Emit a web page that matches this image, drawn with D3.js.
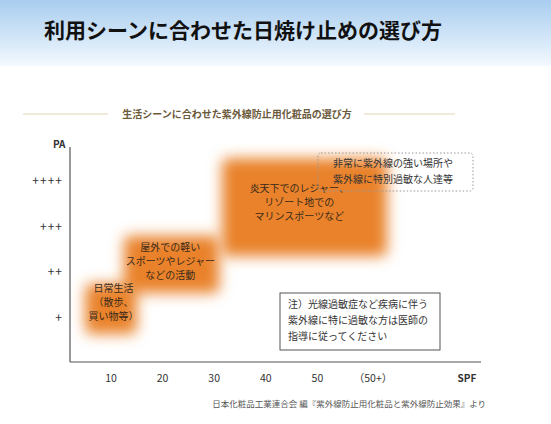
<!DOCTYPE html>
<html><head><meta charset="utf-8">
<script src="https://cdn.jsdelivr.net/npm/d3@7"></script>
<style>body{margin:0;background:#fff;font-family:"Noto Sans CJK JP",sans-serif;}</style>
</head><body><svg id="chart"></svg>
<script>
const spfTicks = [10, 20, 30, 40, 50];
const spfLabels = ['10', '20', '30', '40', '50'];
const paTicks = [1, 2, 3, 4];
const paLabels = ['+', '++', '+++', '++++'];
// usage zones: SPF range and PA range
const zones = [
  {spf: [5, 15], pa: [0.65, 1.75], lines: ['日常生活', '（散歩、', '買い物等）'], at: [10.5, 1.35]},
  {spf: [12.5, 31], pa: [1.55, 2.8], lines: ['屋外での軽い', 'スポーツやレジャー', 'などの活動'], at: [21.5, 2.25]},
  {spf: [31.5, 63.5], pa: [2.35, 4.5], lines: ['炎天下でのレジャー、', 'リゾート地での', 'マリンスポーツなど'], at: [46.5, 3.55]}
];

const width = 551, height = 424;
const svg = d3.select('#chart').attr('width', width).attr('height', height);

// header band
const defs = svg.append('defs');
const sky = defs.append('linearGradient').attr('id', 'sky').attr('x1', 0).attr('y1', 0).attr('x2', 0).attr('y2', 1);
sky.append('stop').attr('offset', 0).attr('stop-color', '#a9cdef');
sky.append('stop').attr('offset', 0.6).attr('stop-color', '#d4e7f8');
sky.append('stop').attr('offset', 1).attr('stop-color', '#f4f9fe');
svg.append('rect').attr('width', width).attr('height', 66).attr('fill', 'url(#sky)');
svg.append('text').attr('x', 44).attr('y', 38)
  .style('font-size', '21px').style('font-weight', 'bold').attr('fill', '#111')
  .text('利用シーンに合わせた日焼け止めの選び方');

// subtitle
svg.append('line').attr('x1', 23).attr('x2', 108).attr('y1', 114).attr('y2', 114).attr('stroke', '#e3d6b4');
svg.append('line').attr('x1', 364).attr('x2', 455).attr('y1', 114).attr('y2', 114).attr('stroke', '#e3d6b4');
svg.append('text').attr('x', 237).attr('y', 118).attr('text-anchor', 'middle')
  .style('font-size', '10px').style('font-weight', 'bold').attr('fill', '#6b5a3c')
  .text('生活シーンに合わせた紫外線防止用化粧品の選び方');

const x = d3.scaleLinear().domain([10, 60]).range([111, 369]);
const y = d3.scaleLinear().domain([1, 4]).range([318, 181]);
const x0 = 70, y0 = 362;

// zones
defs.append('filter').attr('id', 'blur').attr('x', '-40%').attr('y', '-40%').attr('width', '180%').attr('height', '180%')
  .append('feGaussianBlur').attr('stdDeviation', 7);
const g = svg.append('g');
g.selectAll('rect').data(zones).join('rect')
  .attr('x', d => x(d.spf[0])).attr('width', d => x(d.spf[1]) - x(d.spf[0]))
  .attr('y', d => y(d.pa[1])).attr('height', d => y(d.pa[0]) - y(d.pa[1]))
  .attr('rx', 6)
  .attr('fill', '#e9822a').attr('filter', 'url(#blur)');
zones.forEach(z => {
  const t = svg.append('text').attr('text-anchor', 'middle').style('font-size', '10px').attr('fill', '#3a2a1a');
  z.lines.forEach((l, i) => {
    t.append('tspan').attr('x', x(z.at[0])).attr('y', y(z.at[1]) + (i - 1) * 14 + 4).text(l);
  });
});

// axes
svg.append('line').attr('x1', x0).attr('x2', x0).attr('y1', 147).attr('y2', y0).attr('stroke', '#555').attr('stroke-width', 1.2);
svg.append('line').attr('x1', x0).attr('x2', 481).attr('y1', y0).attr('y2', y0).attr('stroke', '#555').attr('stroke-width', 1.2);
svg.append('text').attr('x', 53).attr('y', 148).style('font-size', '10px').style('font-weight', 'bold').attr('fill', '#333').text('PA');
svg.append('text').attr('x', 467).attr('y', 382).attr('text-anchor', 'middle').style('font-size', '10px').style('font-weight', 'bold').attr('fill', '#333').text('SPF');
svg.selectAll('.xt').data(spfTicks).join('text').attr('class', 'xt')
  .attr('x', d => x(d)).attr('y', 382).attr('text-anchor', 'middle')
  .style('font-size', '10.5px').attr('fill', '#333').text((d, i) => spfLabels[i]);
svg.append('text').attr('x', 373).attr('y', 382).attr('text-anchor', 'middle')
  .style('font-size', '10.5px').attr('fill', '#333').text('（50+）');
svg.selectAll('.yt').data(paTicks).join('text').attr('class', 'yt')
  .attr('x', 63).attr('y', d => y(d) + 4).attr('text-anchor', 'end')
  .style('font-size', '12px').style('letter-spacing', '1px').attr('fill', '#333').text((d, i) => paLabels[i]);

// notes
svg.append('rect').attr('x', 318).attr('y', 153).attr('width', 155).attr('height', 38).attr('rx', 3)
  .attr('fill', 'none').attr('stroke', '#999').attr('stroke-dasharray', '1.5,2');
const n1 = svg.append('text').style('font-size', '10px').attr('fill', '#333');
['非常に紫外線の強い場所や', '紫外線に特別過敏な人達等'].forEach((l, i) =>
  n1.append('tspan').attr('x', 333).attr('y', 167 + i * 16).text(l));
svg.append('rect').attr('x', 280).attr('y', 293).attr('width', 160).attr('height', 57)
  .attr('fill', '#fff').attr('stroke', '#555');
const n2 = svg.append('text').style('font-size', '10px').attr('fill', '#333');
['注）光線過敏症など疾病に伴う', '紫外線に特に過敏な方は医師の', '指導に従ってください'].forEach((l, i) =>
  n2.append('tspan').attr('x', 288).attr('y', 308 + i * 16).text(l));

svg.append('text').attr('x', 486).attr('y', 407).attr('text-anchor', 'end')
  .style('font-size', '8.5px').attr('fill', '#555')
  .text('日本化粧品工業連合会 編『紫外線防止用化粧品と紫外線防止効果』より');
</script></body></html>
